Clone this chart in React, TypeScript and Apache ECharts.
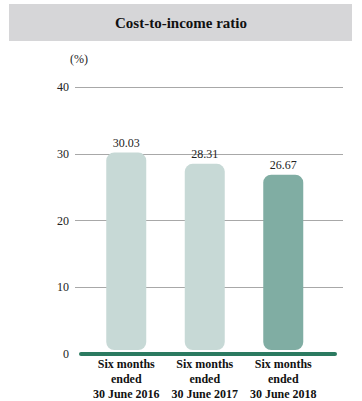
import React, { useEffect, useRef } from "react";
import * as echarts from "echarts";

const title = "Cost-to-income ratio";
const unitLabel = "(%)";
const categories = [
  "Six months\nended\n30 June 2016",
  "Six months\nended\n30 June 2017",
  "Six months\nended\n30 June 2018",
];
const ratios = [30.03, 28.31, 26.67];
const barColors = ["#c7d9d6", "#c7d9d6", "#80ada3"];
const yMin = 0;
const yMax = 40;
const yStep = 10;

const SERIF = "Times New Roman, Liberation Serif, serif";
const GRID_GRAY = "#a8a8a8";

export default function App() {
  const ref = useRef<HTMLDivElement>(null);

  useEffect(() => {
    if (!ref.current) return;
    const chart = echarts.init(ref.current, null, { renderer: "svg" });
    chart.setOption({
      animation: false,
      textStyle: { fontFamily: SERIF },
      graphic: [
        {
          type: "rect",
          shape: { x: 9, y: 4, width: 343, height: 37 },
          style: { fill: "#d6d6d8" },
          silent: true,
        },
        {
          type: "text",
          x: 181,
          y: 23,
          style: {
            text: title,
            fontFamily: SERIF,
            fontSize: 15,
            fontWeight: "bold",
            fill: "#111",
            align: "center",
            verticalAlign: "middle",
          },
        },
      ],
      grid: [
        // value scale with gridlines
        { left: 75, right: 19, top: 87, bottom: 47 },
        // green baseline
        { left: 81, right: 27, top: 87, bottom: 47 },
        // bars
        { left: 87, right: 39.5, top: 87, bottom: 47 },
      ],
      xAxis: [
        { gridIndex: 0, type: "value", show: false, min: 0, max: 1 },
        {
          gridIndex: 1,
          type: "value",
          min: 0,
          max: 1,
          axisLine: { show: true, lineStyle: { color: "#2b7a60", width: 4 } },
          axisTick: { show: false },
          axisLabel: { show: false },
          splitLine: { show: false },
        },
        {
          gridIndex: 2,
          type: "category",
          data: categories,
          axisLine: { show: false },
          axisTick: { show: false },
          axisLabel: {
            margin: 6,
            fontFamily: SERIF,
            fontSize: 12,
            fontWeight: "bold",
            color: "#111",
            lineHeight: 15,
            interval: 0,
          },
        },
      ],
      yAxis: [
        {
          gridIndex: 0,
          type: "value",
          min: yMin,
          max: yMax,
          interval: yStep,
          name: unitLabel,
          nameLocation: "end",
          nameGap: 22,
          nameTextStyle: {
            fontFamily: SERIF,
            fontSize: 12,
            color: "#222",
            padding: [0, 0, 0, 8],
          },
          axisLine: { show: false },
          axisTick: { show: false },
          axisLabel: { margin: 6, fontFamily: SERIF, fontSize: 12, color: "#222" },
          splitLine: {
            show: true,
            // the zero line is replaced by the green baseline
            lineStyle: {
              color: ["rgba(0,0,0,0)", GRID_GRAY, GRID_GRAY, GRID_GRAY, GRID_GRAY],
              width: 1,
            },
          },
        },
        { gridIndex: 1, type: "value", min: yMin, max: yMax, show: false },
        { gridIndex: 2, type: "value", min: yMin, max: yMax, show: false },
      ],
      series: [
        {
          type: "bar",
          xAxisIndex: 2,
          yAxisIndex: 2,
          z: 1,
          barWidth: 40,
          data: ratios.map((v, i) => ({
            value: v,
            itemStyle: { color: barColors[i], borderRadius: 8 },
          })),
          label: {
            show: true,
            position: "top",
            distance: 4,
            fontFamily: SERIF,
            fontSize: 12,
            color: "#222",
            formatter: (p: any) => Number(p.value).toFixed(2),
          },
        },
      ],
    });
    return () => chart.dispose();
  }, []);

  return (
    <div
      ref={ref}
      style={{ position: "fixed", left: 0, top: 0, width: 362, height: 401, background: "#fff" }}
    />
  );
}
